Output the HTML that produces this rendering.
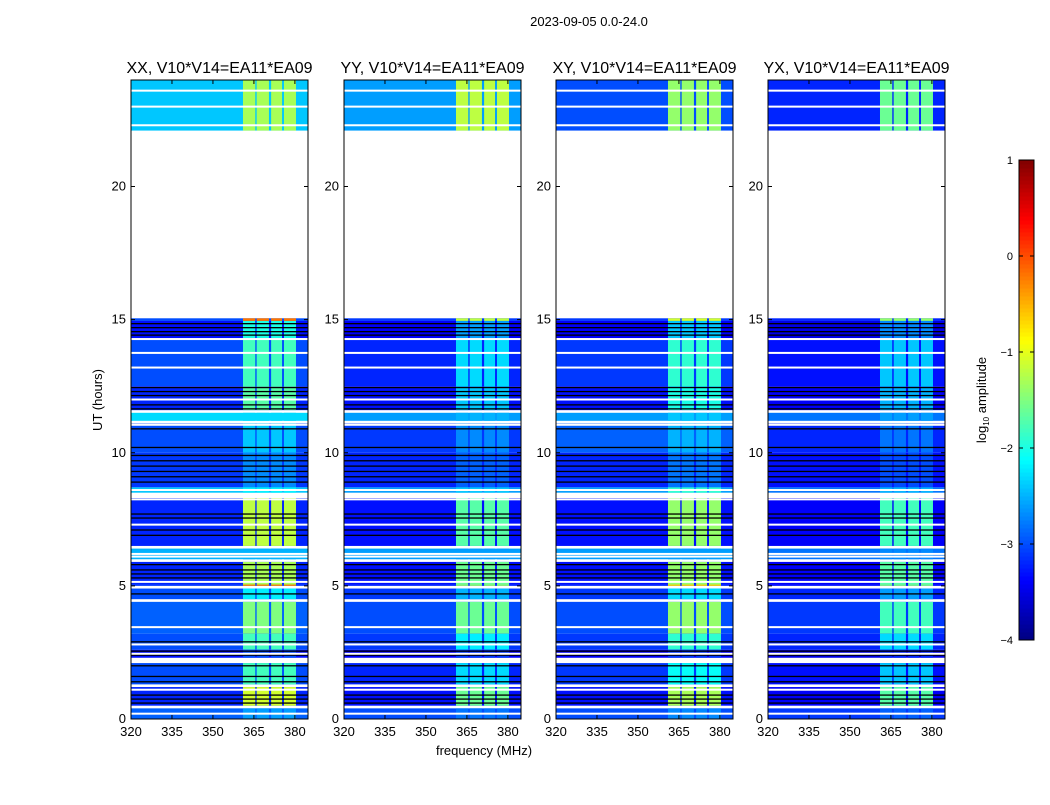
<!DOCTYPE html>
<html><head><meta charset="utf-8">
<style>
body{margin:0;background:#fff;}
svg text{font-family:"Liberation Sans",sans-serif;fill:#000;}
</style></head>
<body>
<svg id="fig" width="1050" height="800" xmlns="http://www.w3.org/2000/svg">
<rect width="1050" height="800" fill="#fff"/>
<text x="589" y="26" font-size="13" text-anchor="middle">2023-09-05 0.0-24.0</text>
<text transform="translate(102,400) rotate(-90)" font-size="13" text-anchor="middle">UT (hours)</text>
<text x="484" y="755" font-size="13" text-anchor="middle">frequency (MHz)</text>
<g id="panels"></g>
<g id="cbar"></g>
</svg>
<script>
// ---- data ----
const panelTitles = ["XX, V10*V14=EA11*EA09","YY, V10*V14=EA11*EA09","XY, V10*V14=EA11*EA09","YX, V10*V14=EA11*EA09"];
const panelLeft = [131, 344, 556, 768];
const xTicks = [320, 335, 350, 365, 380];
const yTicks = [0, 5, 10, 15, 20];
const cbarTicks = [1, 0, -1, -2, -3, -4];
// frequency bands (MHz) carrying stronger signal
const bandStart = [361, 366, 371.3, 376];
const bandEnd   = [365.5, 370.5, 375.3, 380.4];
// time rows: start hour, end hour
const rowStart = [22.1, 14.95, 14.3, 12.5, 11.6, 11.2, 10.0, 8.7, 8.5, 6.5, 6.0, 5.05, 5.0, 4.5, 3.2, 2.6, 2.3, 1.3, 0.5, 0.0];
const rowEnd   = [24.0, 15.05, 14.95, 14.25, 12.5, 11.5, 11.1, 10.0, 8.7, 8.3, 6.4, 5.9, 5.05, 4.9, 4.4, 3.2, 2.6, 2.1, 1.2, 0.4];
// background log amplitude per row, per polarisation
const bgXX = [-2.4, -3.0, -3.3, -3.0, -3.2, -2.3, -3.0, -3.1, -2.4, -3.2, -2.5, -3.2, -3.1, -3.0, -2.9, -3.0, -3.3, -3.0, -3.2, -2.9];
const bgYY = [-2.6, -3.1, -3.4, -3.2, -3.3, -2.6, -3.1, -3.2, -2.6, -3.3, -2.6, -3.3, -3.2, -3.1, -3.0, -3.1, -3.4, -3.2, -3.3, -3.0];
const bgXY = [-3.0, -3.1, -3.4, -3.1, -3.3, -2.6, -2.9, -3.2, -2.6, -3.3, -2.6, -3.3, -3.2, -3.1, -3.0, -3.1, -3.4, -3.1, -3.3, -3.0];
const bgYX = [-3.2, -3.2, -3.5, -3.3, -3.4, -2.8, -3.2, -3.3, -2.8, -3.4, -2.8, -3.4, -3.3, -3.2, -3.1, -3.2, -3.5, -3.3, -3.4, -3.1];
// band log amplitude per row, per polarisation
const bandXX = [-1.3, -0.2, -2.0, -1.8, -1.7, -2.3, -2.4, -2.7, -2.2, -1.2, -2.5, -1.3, -0.3, -2.2, -1.5, -1.8, -3.0, -1.8, -1.1, -2.6];
const bandYY = [-1.2, -1.2, -2.6, -2.3, -2.4, -2.5, -2.7, -2.9, -2.4, -1.7, -2.6, -1.6, -1.4, -2.5, -1.6, -2.2, -3.1, -2.3, -1.6, -2.8];
const bandXY = [-1.4, -1.1, -2.4, -1.9, -2.0, -2.4, -2.5, -2.8, -1.9, -1.4, -2.6, -1.4, -0.7, -2.3, -1.4, -1.9, -3.1, -2.1, -1.3, -2.7];
const bandYX = [-1.6, -1.4, -2.7, -2.4, -2.5, -2.6, -2.8, -3.0, -2.5, -1.8, -2.7, -1.7, -1.5, -2.6, -1.8, -2.3, -3.2, -2.4, -1.7, -2.9];
const bgSeries = [bgXX, bgYY, bgXY, bgYX];
const bandSeries = [bandXX, bandYY, bandXY, bandYX];
// flagged (no data) thin lines and black stripes (hours)
const whiteLines = [23.6, 23.0, 22.3, 14.27, 13.75, 13.2, 12.0, 11.05, 8.6, 8.25, 7.3, 6.2, 6.1, 5.15, 4.95, 4.45, 3.45, 2.8, 2.45, 1.1, 0.45, 0.2];
const blackLines = [14.85, 14.7, 14.55, 14.42, 12.45, 12.3, 12.15, 11.8, 11.65, 10.9, 10.2, 9.9, 9.7, 9.5, 9.3, 9.1, 8.9, 7.7, 7.55, 7.1, 6.9, 5.8, 5.6, 5.45, 5.3, 4.7, 2.9, 2.55, 2.4, 2.0, 1.6, 1.4, 0.9, 0.75, 0.6];
// ---- scales ----
const NS = "http://www.w3.org/2000/svg";
const W = 177, TOP = 80, BOT = 719;
const fMin = 320, fMax = 384.8;
function yScale(h){ return BOT - (h/24)*(BOT-TOP); }
function xScale(f, left){ return left + (f-fMin)/(fMax-fMin)*W; }
function jet(v){
  let t = (v+4)/5; t = Math.max(0, Math.min(1, t));
  const c = x => Math.round(255*Math.max(0, Math.min(1, x)));
  return `rgb(${c(1.5-Math.abs(4*t-3))},${c(1.5-Math.abs(4*t-2))},${c(1.5-Math.abs(4*t-1))})`;
}
function mk(tag, attrs, parent){
  const e = document.createElementNS(NS, tag);
  for (const k in attrs) e.setAttribute(k, attrs[k]);
  parent.appendChild(e); return e;
}
const panels = document.getElementById('panels');
panelTitles.forEach((title, p) => {
  const L = panelLeft[p];
  const g = mk('g', {}, panels);
  
  
  const hm = mk('g', {}, g);
  
  
  rowStart.forEach((t0, i) => {
    const t1 = rowEnd[i];
    const y0 = yScale(t1), y1 = yScale(t0);
    const r = mk('rect', {x: L, y: y0, width: W, height: y1-y0, fill: jet(bgSeries[p][i])}, hm);
    
    
    bandStart.forEach((b0, j) => {
      const x0 = xScale(b0, L), x1 = xScale(bandEnd[j], L);
      const br = mk('rect', {x: x0, y: y0, width: x1-x0, height: y1-y0, fill: jet(bandSeries[p][i])}, hm);
      
      
    });
  });
  blackLines.forEach(h => {
    const l = mk('rect', {x: L, y: yScale(h)-0.6, width: W, height: 1.3, fill: '#000'}, hm);
    
    
  });
  whiteLines.forEach(h => {
    const l = mk('rect', {x: L, y: yScale(h)-1, width: W, height: 2, fill: '#fff'}, hm);
    
    
  });
  const fr = mk('rect', {x: L, y: TOP, width: W, height: BOT-TOP, fill: 'none', stroke: '#000', 'stroke-width': 1}, g);
  
  
  const tt = mk('text', {x: L + W/2, y: 73, 'font-size': 16, 'text-anchor': 'middle'}, g);
  tt.textContent = title;
  
  
  xTicks.forEach(f => {
    const x = xScale(f, L);
    mk('line', {x1: x, x2: x, y1: BOT, y2: BOT-4, stroke: '#000'}, g);
    mk('line', {x1: x, x2: x, y1: TOP, y2: TOP+4, stroke: '#000'}, g);
    const t = mk('text', {x: x, y: BOT+17, 'font-size': 13, 'text-anchor': 'middle'}, g);
    t.textContent = f;
    
    
  });
  yTicks.forEach(h => {
    const y = yScale(h);
    mk('line', {x1: L, x2: L+4, y1: y, y2: y, stroke: '#000'}, g);
    mk('line', {x1: L+W, x2: L+W-4, y1: y, y2: y, stroke: '#000'}, g);
    const t = mk('text', {x: L-5, y: y+4, 'font-size': 13, 'text-anchor': 'end'}, g);
    t.textContent = h;
    
    
  });
});
// colorbar
const cb = document.getElementById('cbar');


const CX = 1019, CW = 15, CT = 160, CB = 640;
for (let i = 0; i < 120; i++) {
  const v = -4 + 5*(i+0.5)/120;
  const y = CB - (i+1)*(CB-CT)/120;
  mk('rect', {x: CX, y: y, width: CW, height: (CB-CT)/120 + 0.5, fill: jet(v)}, cb);
}
mk('rect', {x: CX, y: CT, width: CW, height: CB-CT, fill: 'none', stroke: '#000'}, cb);
cbarTicks.forEach(v => {
  const y = CB - (v+4)/5*(CB-CT);
  mk('line', {x1: CX, x2: CX+4, y1: y, y2: y, stroke: '#000'}, cb);
  mk('line', {x1: CX+CW, x2: CX+CW-4, y1: y, y2: y, stroke: '#000'}, cb);
  const t = mk('text', {x: 1013, y: y+4, 'font-size': 11, 'text-anchor': 'end'}, cb);
  t.textContent = v < 0 ? '\u2212' + Math.abs(v) : String(v);
  
  
});
const cl = mk('text', {transform: 'translate(986,400) rotate(-90)', 'font-size': 13, 'text-anchor': 'middle'}, cb);
cl.innerHTML = 'log<tspan font-size="8" dy="3">10</tspan><tspan dy="-3"> amplitude</tspan>';


</script>
</body></html>
